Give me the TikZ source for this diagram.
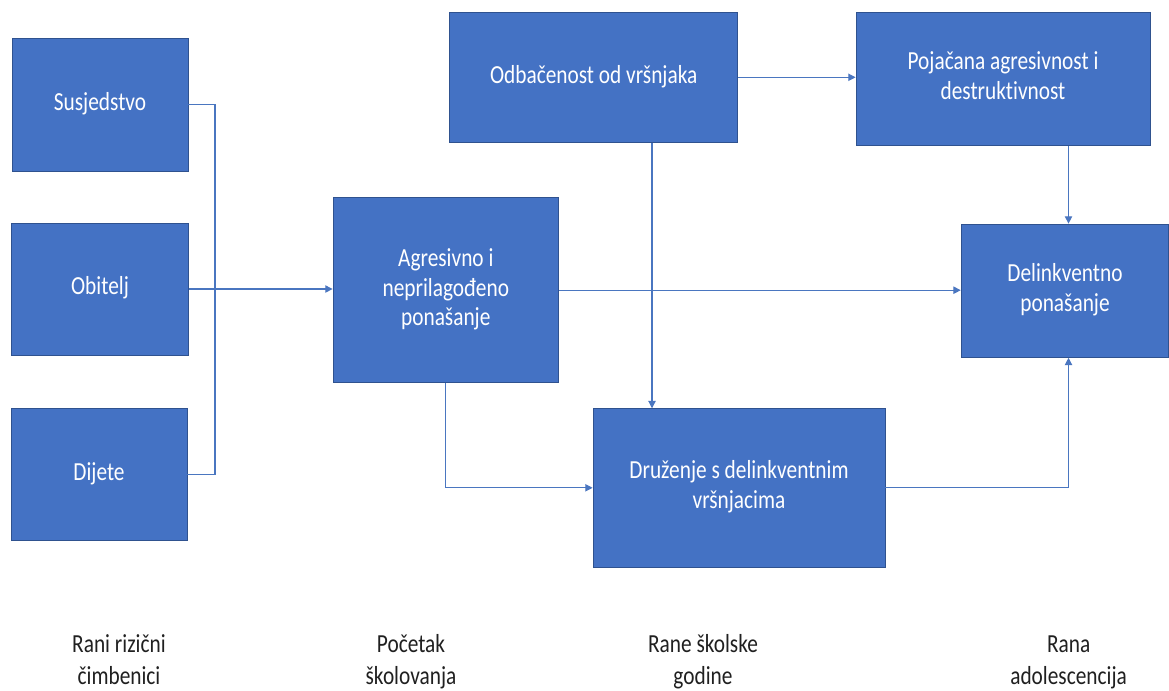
\documentclass[tikz,border=0pt]{standalone}
\usepackage{fontspec}
\setmainfont{Carlito}[Ligatures=NoCommon]
\usetikzlibrary{arrows.meta}
\definecolor{boxblue}{HTML}{4472C4}
\definecolor{boxedge}{HTML}{2F528F}
\definecolor{linkblue}{HTML}{4A76C0}
\definecolor{labgray}{HTML}{202020}
\newcommand{\bt}[1]{\scalebox{1}[1.22]{\fontsize{16}{18.3}\selectfont\begin{tabular}{@{}c@{}}#1\end{tabular}}}
\newcommand{\lt}[1]{\scalebox{1}[1.22]{\fontsize{16}{19.5}\selectfont\begin{tabular}{@{}c@{}}#1\end{tabular}}}
\begin{document}
\begin{tikzpicture}[x=0.75pt,y=-0.75pt,
  box/.style={rectangle, fill=boxblue, draw=boxedge, line width=0.6pt, text=white, inner sep=0pt},
  link/.style={draw=linkblue, line width=0.8pt},
  arr/.style={link, -{Triangle[width=5.5pt,length=5.5pt]}},
  lab/.style={text=labgray, inner sep=0pt}]
\fill[white] (0,0) rectangle (1169,690);
\useasboundingbox (0,0) rectangle (1169,690);
% boxes
\node[box, minimum width=132pt, minimum height=99.75pt] (S) at (100,104.5) {\bt{Susjedstvo}};
\node[box, minimum width=132.75pt, minimum height=99pt] (O) at (100,289) {\bt{Obitelj}};
\node[box, minimum width=132pt, minimum height=99pt] (D) at (99,474.7) {\bt{Dijete}};
\node[box, minimum width=169.2pt, minimum height=138.75pt] (A) at (445.8,290.2) {\bt{Agresivno i\\neprilagođeno\\ponašanje}};
\node[box, minimum width=216pt, minimum height=98pt] (R) at (593.7,77.3) {\bt{Odbačenost od vršnjaka}};
\node[box, minimum width=220.5pt, minimum height=100pt] (P) at (1003,78.7) {\bt{Pojačana agresivnost i\\destruktivnost}};
\node[box, minimum width=155.8pt, minimum height=100pt] (L) at (1065,290.7) {\bt{Delinkventno\\ponašanje}};
\node[box, minimum width=219pt, minimum height=118.7pt] (Z) at (739,487.8) {\bt{Druženje s delinkventnim\\vršnjacima}};
% helper coordinates
\coordinate (jx) at (215,0);
\coordinate (rx) at (652,0);
\coordinate (lx) at (1068.5,0);
% connectors
\draw[link] (S.east) -- (S.east -| jx) -- (D.east -| jx) -- (D.east);
\draw[arr] (O.east) -- (O.east -| A.west);
\draw[arr] (R.east) -- (R.east -| P.west);
\draw[arr] (R.south -| rx) -- (Z.north -| rx);
\draw[arr] (A.east) -- (A.east -| L.west);
\draw[arr] (P.south -| lx) -- (L.north -| lx);
\draw[arr] (A.south) |- (Z.west);
\draw[arr] (Z.east) -| (lx |- L.south);
% stage labels
\node[lab] (s1) at (119,662) {\lt{Rani rizični\\čimbenici}};
\node[lab] (s2) at (411,662) {\lt{Početak\\školovanja}};
\node[lab] (s3) at (703,662) {\lt{Rane školske\\godine}};
\node[lab] (s4) at (1068.6,662) {\lt{Rana\\adolescencija}};
\end{tikzpicture}
\end{document}
